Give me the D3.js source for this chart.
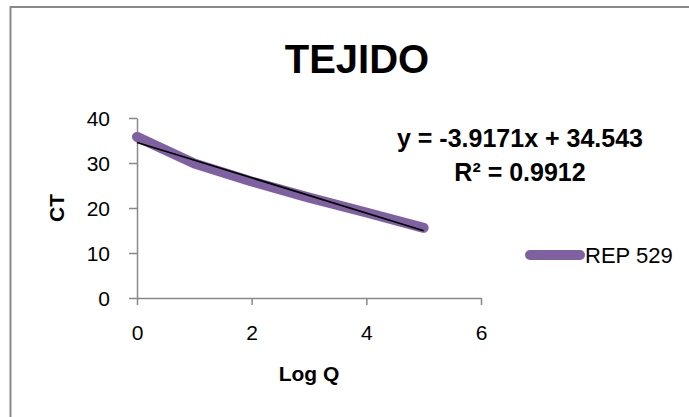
<!DOCTYPE html>
<html>
<head>
<meta charset="utf-8">
<script src="https://cdn.jsdelivr.net/npm/d3@7"></script>
<style>
  body { margin: 0; background: #fff; }
  text { font-family: "Liberation Sans", Arial, sans-serif; }
</style>
</head>
<body>
<div class="chart"></div>
<script>
// Data
var logQ = [0, 1, 2, 3, 4, 5];
var ctValues = [35.8, 29.9, 25.9, 22.3, 19.0, 15.6];
var xTicks = [0, 2, 4, 6];
var yTicks = [0, 10, 20, 30, 40];
var seriesName = "REP 529";
var equationText = "y = -3.9171x + 34.543";
var r2Text = "R² = 0.9912";

var svgWidth = 689;
var svgHeight = 417;

// plot area in page pixels
var plot = { left: 137, right: 481, top: 118, bottom: 298 };

var svg = d3.select(".chart")
  .append("svg")
  .attr("width", svgWidth)
  .attr("height", svgHeight);

// chart frame (only top and left edges visible)
svg.append("path")
  .attr("d", "M10.5,417 L10.5,7 L689,7")
  .attr("fill", "none")
  .attr("stroke", "#898989")
  .attr("stroke-width", 2);

var x = d3.scaleLinear().domain([0, 6]).range([plot.left, plot.right]);
var y = d3.scaleLinear().domain([0, 40]).range([plot.bottom, plot.top]);

// axes
var leftAxis = d3.axisLeft(y).tickValues(yTicks).tickFormat(d3.format("d"))
  .tickSize(8).tickPadding(19).tickSizeOuter(0);
var bottomAxis = d3.axisBottom(x).tickValues(xTicks).tickFormat(d3.format("d"))
  .tickSize(7).tickPadding(20).tickSizeOuter(0);

var gy = svg.append("g")
  .attr("transform", `translate(${plot.left},0)`)
  .call(leftAxis);

var gx = svg.append("g")
  .attr("transform", `translate(0,${plot.bottom})`)
  .call(bottomAxis);

[gx, gy].forEach(function(g) {
  g.select(".domain").attr("stroke", "#898989").attr("stroke-width", 1.5);
  g.selectAll(".tick line").attr("stroke", "#898989").attr("stroke-width", 1.5);
  g.selectAll(".tick text")
    .attr("fill", "#000")
    .style("font-size", "21px")
    .style("font-family", "'Liberation Sans', Arial, sans-serif");
});
gy.selectAll(".tick text").attr("dy", "0.36em");

// series line
var line = d3.line()
  .x(function(d, i) { return x(logQ[i]); })
  .y(function(d) { return y(d); });

svg.append("path")
  .datum(ctValues)
  .attr("d", line)
  .attr("fill", "none")
  .attr("stroke", "#7f61a1")
  .attr("stroke-width", 10)
  .attr("stroke-linecap", "round")
  .attr("stroke-linejoin", "round");

// linear trendline computed from the data
var mx = d3.mean(logQ), my = d3.mean(ctValues);
var sxy = d3.sum(logQ, function(v, i) { return (v - mx) * (ctValues[i] - my); });
var sxx = d3.sum(logQ, function(v) { return (v - mx) * (v - mx); });
var slope = sxy / sxx;
var intercept = my - slope * mx;
var xExtent = d3.extent(logQ);

svg.append("line")
  .attr("x1", x(xExtent[0]))
  .attr("y1", y(intercept + slope * xExtent[0]))
  .attr("x2", x(xExtent[1]))
  .attr("y2", y(intercept + slope * xExtent[1]))
  .attr("stroke", "#000")
  .attr("stroke-width", 1.75);

// title
svg.append("text")
  .attr("x", 357)
  .attr("y", 73)
  .attr("text-anchor", "middle")
  .style("font-size", "40px")
  .style("font-weight", "bold")
  .text("TEJIDO");

// trendline label
svg.append("text")
  .attr("x", 520)
  .attr("y", 147)
  .attr("text-anchor", "middle")
  .style("font-size", "25px")
  .style("font-weight", "bold")
  .text(equationText);

svg.append("text")
  .attr("x", 520)
  .attr("y", 181)
  .attr("text-anchor", "middle")
  .style("font-size", "25px")
  .style("font-weight", "bold")
  .text(r2Text);

// axis titles
svg.append("text")
  .attr("x", 309)
  .attr("y", 381)
  .attr("text-anchor", "middle")
  .style("font-size", "21px")
  .style("font-weight", "bold")
  .text("Log Q");

svg.append("text")
  .attr("transform", "translate(64,208) rotate(-90)")
  .attr("text-anchor", "middle")
  .style("font-size", "21px")
  .style("font-weight", "bold")
  .text("CT");

// legend
svg.append("line")
  .attr("x1", 530).attr("y1", 255)
  .attr("x2", 580).attr("y2", 255)
  .attr("stroke", "#7f61a1")
  .attr("stroke-width", 10)
  .attr("stroke-linecap", "round");

svg.append("text")
  .attr("x", 585)
  .attr("y", 263)
  .style("font-size", "22px")
  .text(seriesName);
</script>
</body>
</html>
